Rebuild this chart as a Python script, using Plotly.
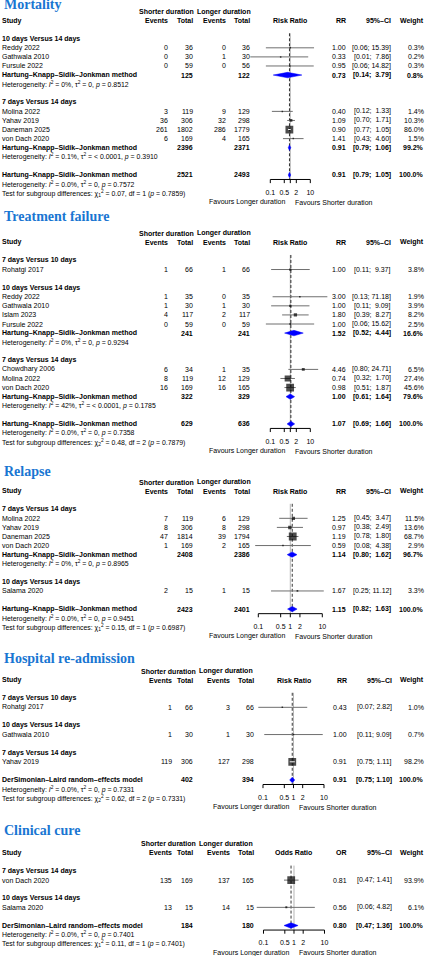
import math
import plotly.graph_objects as go

W, H = 425, 956
ROW_H = 9.08
SANS = "Liberation Sans, Arial, Helvetica, sans-serif"
SERIF = "Liberation Serif, Times New Roman, serif"
TITLE_BLUE = "#1976d2"
DIAMOND_BLUE = "#0000ff"
CI_GREY = "#6f6f6f"
REF_GREY = "#b5b5b5"
NBSP = "\u00a0"

# ---------------- data ----------------
TICK_VALS = [0.1, 0.5, 1, 2, 10]
TICK_TEXT_SHORT = ["0.1", "0.5", "", "2", "10"]
TICK_TEXT_FULL = ["0.1", "0.5", "1", "2", "10"]
FAVOURS = ["Favours Longer duration", "Favours Shorter duration"]
ARMS = ["Shorter duration", "Longer duration"]
HKSJ = "Hartung–Knapp–Sidik–Jonkman method"
DSL = "DerSimonian–Laird random–effects model"

# Mortality
MORT_GROUPS = ["10 days Versus 14 days", "7 days Versus 14 days"]
MORT_GROUP_OF = [0, 0, 0, 1, 1, 1, 1]
MORT_STUDY = ["Reddy 2022", "Gathwala 2010", "Fursule 2022", "Molina 2022",
              "Yahav 2019", "Daneman 2025", "von Dach 2020"]
MORT_E1 = [0, 0, 0, 3, 36, 261, 6]
MORT_N1 = [36, 30, 59, 119, 306, 1802, 169]
MORT_E2 = [0, 1, 0, 9, 32, 286, 4]
MORT_N2 = [36, 30, 56, 129, 298, 1779, 165]
MORT_EST = [1.00, 0.33, 0.95, 0.40, 1.09, 0.90, 1.41]
MORT_LO = [0.06, 0.01, 0.06, 0.12, 0.70, 0.77, 0.43]
MORT_HI = [15.39, 7.86, 14.82, 1.33, 1.71, 1.05, 4.60]
MORT_W = [0.3, 0.2, 0.3, 1.4, 10.3, 86.0, 1.5]
MORT_SUB_N = [[125, 122], [2396, 2371]]
MORT_SUB_CI = [[0.73, 0.14, 3.79], [0.91, 0.79, 1.06]]
MORT_SUB_W = [0.8, 99.2]
MORT_SUB_HET = [["0%", "0", "0.8512"], ["0.1%", "< 0.0001", "0.3910"]]
MORT_ALL_N = [2521, 2493]
MORT_ALL_CI = [0.91, 0.79, 1.05]
MORT_ALL_HET = ["0.0%", "0", "0.7572"]
MORT_TEST = [0.07, 1, "0.7859"]

# Treatment failure
FAIL_GROUPS = ["7 days Versus 10 days", "10 days Versus 14 days", "7 days Versus 14 days"]
FAIL_GROUP_OF = [0, 1, 1, 1, 1, 2, 2, 2]
FAIL_STUDY = ["Rohatgi 2017", "Reddy 2022", "Gathwala 2010", "Islam 2023",
              "Fursule 2022", "Chowdhary 2006", "Molina 2022", "von Dach 2020"]
FAIL_E1 = [1, 1, 1, 4, 0, 6, 8, 16]
FAIL_N1 = [66, 35, 30, 117, 59, 34, 119, 169]
FAIL_E2 = [1, 0, 1, 2, 0, 1, 12, 16]
FAIL_N2 = [66, 35, 30, 117, 59, 35, 129, 165]
FAIL_EST = [1.00, 3.00, 1.00, 1.80, 1.00, 4.46, 0.74, 0.98]
FAIL_LO = [0.11, 0.13, 0.11, 0.39, 0.06, 0.80, 0.32, 0.51]
FAIL_HI = [9.37, 71.18, 9.09, 8.27, 15.62, 24.71, 1.70, 1.87]
FAIL_W = [3.8, 1.9, 3.9, 8.2, 2.5, 6.5, 27.4, 45.6]
FAIL_SUB_N = [None, [241, 241], [322, 329]]
FAIL_SUB_CI = [None, [1.52, 0.52, 4.44], [1.00, 0.61, 1.64]]
FAIL_SUB_W = [None, 16.6, 79.6]
FAIL_SUB_HET = [None, ["0%", "0", "0.9294"], ["42%", "< 0.0001", "0.1785"]]
FAIL_ALL_N = [629, 636]
FAIL_ALL_CI = [1.07, 0.69, 1.66]
FAIL_ALL_HET = ["0.0%", "0", "0.7358"]
FAIL_TEST = [0.48, 2, "0.7879"]

# Relapse
RELA_GROUPS = ["7 days Versus 14 days", "10 days Versus 14 days"]
RELA_GROUP_OF = [0, 0, 0, 0, 1]
RELA_STUDY = ["Molina 2022", "Yahav 2019", "Daneman 2025", "von Dach 2020", "Salama 2020"]
RELA_E1 = [7, 8, 47, 1, 2]
RELA_N1 = [119, 306, 1814, 169, 15]
RELA_E2 = [6, 8, 39, 2, 1]
RELA_N2 = [129, 298, 1794, 165, 15]
RELA_EST = [1.25, 0.97, 1.19, 0.59, 1.67]
RELA_LO = [0.45, 0.38, 0.78, 0.08, 0.25]
RELA_HI = [3.47, 2.49, 1.80, 4.38, 11.12]
RELA_W = [11.5, 13.6, 68.7, 2.9, 3.3]
RELA_SUB_N = [[2408, 2386], None]
RELA_SUB_CI = [[1.14, 0.80, 1.62], None]
RELA_SUB_W = [96.7, None]
RELA_SUB_HET = [["0%", "0", "0.8965"], None]
RELA_ALL_N = [2423, 2401]
RELA_ALL_CI = [1.15, 0.82, 1.63]
RELA_ALL_HET = ["0.0%", "0", "0.9451"]
RELA_TEST = [0.15, 1, "0.6987"]

# Hospital re-admission
HOSP_GROUPS = ["7 days Versus 10 days", "10 days Versus 14 days", "7 days Versus 14 days"]
HOSP_GROUP_OF = [0, 1, 2]
HOSP_STUDY = ["Rohatgi 2017", "Gathwala 2010", "Yahav 2019"]
HOSP_E1 = [1, 1, 119]
HOSP_N1 = [66, 30, 306]
HOSP_E2 = [3, 1, 127]
HOSP_N2 = [66, 30, 298]
HOSP_EST = [0.43, 1.00, 0.91]
HOSP_LO = [0.07, 0.11, 0.75]
HOSP_HI = [2.82, 9.09, 1.11]
HOSP_W = [1.0, 0.7, 98.2]
HOSP_ALL_N = [402, 394]
HOSP_ALL_CI = [0.91, 0.75, 1.10]
HOSP_ALL_HET = ["0.0%", "0", "0.7331"]
HOSP_TEST = [0.62, 2, "0.7331"]

# Clinical cure
CURE_GROUPS = ["7 days Versus 14 days", "10 days Versus 14 days"]
CURE_GROUP_OF = [0, 1]
CURE_STUDY = ["von Dach 2020", "Salama 2020"]
CURE_E1 = [135, 13]
CURE_N1 = [169, 15]
CURE_E2 = [137, 14]
CURE_N2 = [165, 15]
CURE_EST = [0.81, 0.56]
CURE_LO = [0.47, 0.06]
CURE_HI = [1.41, 4.82]
CURE_W = [93.9, 6.1]
CURE_ALL_N = [184, 180]
CURE_ALL_CI = [0.80, 0.47, 1.36]
CURE_ALL_HET = ["0.0%", "0", "0.7401"]
CURE_TEST = [0.11, 1, "0.7401"]

PANELS = [
    dict(title="Mortality", measure="Risk Ratio", abbr="RR", pooled=HKSJ,
         groups=MORT_GROUPS, group_of=MORT_GROUP_OF, study=MORT_STUDY,
         e1=MORT_E1, n1=MORT_N1, e2=MORT_E2, n2=MORT_N2,
         est=MORT_EST, lo=MORT_LO, hi=MORT_HI, w=MORT_W,
         sub_n=MORT_SUB_N, sub_ci=MORT_SUB_CI, sub_w=MORT_SUB_W, sub_het=MORT_SUB_HET,
         all_n=MORT_ALL_N, all_ci=MORT_ALL_CI, all_het=MORT_ALL_HET, test=MORT_TEST),
    dict(title="Treatment failure", measure="Risk Ratio", abbr="RR", pooled=HKSJ,
         groups=FAIL_GROUPS, group_of=FAIL_GROUP_OF, study=FAIL_STUDY,
         e1=FAIL_E1, n1=FAIL_N1, e2=FAIL_E2, n2=FAIL_N2,
         est=FAIL_EST, lo=FAIL_LO, hi=FAIL_HI, w=FAIL_W,
         sub_n=FAIL_SUB_N, sub_ci=FAIL_SUB_CI, sub_w=FAIL_SUB_W, sub_het=FAIL_SUB_HET,
         all_n=FAIL_ALL_N, all_ci=FAIL_ALL_CI, all_het=FAIL_ALL_HET, test=FAIL_TEST),
    dict(title="Relapse", measure="Risk Ratio", abbr="RR", pooled=HKSJ,
         groups=RELA_GROUPS, group_of=RELA_GROUP_OF, study=RELA_STUDY,
         e1=RELA_E1, n1=RELA_N1, e2=RELA_E2, n2=RELA_N2,
         est=RELA_EST, lo=RELA_LO, hi=RELA_HI, w=RELA_W,
         sub_n=RELA_SUB_N, sub_ci=RELA_SUB_CI, sub_w=RELA_SUB_W, sub_het=RELA_SUB_HET,
         all_n=RELA_ALL_N, all_ci=RELA_ALL_CI, all_het=RELA_ALL_HET, test=RELA_TEST),
    dict(title="Hospital re-admission", measure="Risk Ratio", abbr="RR", pooled=DSL,
         groups=HOSP_GROUPS, group_of=HOSP_GROUP_OF, study=HOSP_STUDY,
         e1=HOSP_E1, n1=HOSP_N1, e2=HOSP_E2, n2=HOSP_N2,
         est=HOSP_EST, lo=HOSP_LO, hi=HOSP_HI, w=HOSP_W,
         sub_n=[None] * 3, sub_ci=[None] * 3, sub_w=[None] * 3, sub_het=[None] * 3,
         all_n=HOSP_ALL_N, all_ci=HOSP_ALL_CI, all_het=HOSP_ALL_HET, test=HOSP_TEST),
    dict(title="Clinical cure", measure="Odds Ratio", abbr="OR", pooled=DSL,
         groups=CURE_GROUPS, group_of=CURE_GROUP_OF, study=CURE_STUDY,
         e1=CURE_E1, n1=CURE_N1, e2=CURE_E2, n2=CURE_N2,
         est=CURE_EST, lo=CURE_LO, hi=CURE_HI, w=CURE_W,
         sub_n=[None] * 2, sub_ci=[None] * 2, sub_w=[None] * 2, sub_het=[None] * 2,
         all_n=CURE_ALL_N, all_ci=CURE_ALL_CI, all_het=CURE_ALL_HET, test=CURE_TEST),
]

# ---------------- layout geometry (pixels) ----------------
COLS_A = dict(ev1=168.3, n1=193.3, ev2=225.7, n2=250.0, est=345.7, ci=390.7, w=423.5,
              arm1=166.0, arm2=224.0)
COLS_B = dict(ev1=172.3, n1=193.3, ev2=230.0, n2=254.3, est=347.0, ci=391.5, w=424.0,
              arm1=168.5, arm2=226.0)
GEOMETRY = [
    dict(title_y=5.0, top=11.5, centre=290.3, decade=20.0, cols=COLS_A, ticks=TICK_TEXT_SHORT),
    dict(title_y=216.5, top=233.2, centre=290.3, decade=20.0, cols=COLS_A, ticks=TICK_TEXT_SHORT),
    dict(title_y=471.0, top=482.0, centre=290.3, decade=32.0, cols=COLS_A, ticks=TICK_TEXT_FULL),
    dict(title_y=658.5, top=671.0, centre=293.5, decade=30.5, cols=COLS_B, ticks=TICK_TEXT_FULL),
    dict(title_y=830.5, top=843.8, centre=294.0, decade=30.5, cols=COLS_B, ticks=TICK_TEXT_FULL),
]
SPAN = 2.2          # log10 half-width of each forest axis
LEFT_X = 1.7
SQ_MAX, SQ_MIN = 7.8, 1.5
DIAMOND_H = 0.3
BODY_SIZE, SMALL_SIZE, TITLE_SIZE = 7, 6.9, 14


def panel_rows(d):
    """Assign a row index to every line of one forest plot."""
    rows = []
    r = 3
    for g in range(len(d["groups"])):
        rows.append(("group", r, g))
        r += 1
        for i, gi in enumerate(d["group_of"]):
            if gi == g:
                rows.append(("study", r, i))
                r += 1
        if d["sub_ci"][g] is not None:
            rows.append(("sub", r, g))
            rows.append(("subhet", r + 1, g))
            r += 2
        r += 1
    return rows, r


def het_text(i2, tau2, p):
    return (f"Heterogeneity: <i>I</i><sup>2</sup> = {i2}, τ<sup>2</sup> = {tau2}, "
            f"<i>p</i> = {p}")


fig = go.Figure()
annotations = []


def label(ya, xpx, row, text, anchor="right", size=BODY_SIZE, bold=False):
    annotations.append(dict(
        xref="paper", yref=ya, x=xpx / W, y=row,
        text=f"<b>{text}</b>" if bold else text,
        xanchor=anchor, yanchor="middle", showarrow=False,
        font=dict(family=SANS, size=size, color="black"),
        borderpad=0, borderwidth=0))


for k, (d, geo) in enumerate(zip(PANELS, GEOMETRY)):
    sfx = "" if k == 0 else str(k + 1)
    xa, ya = "x" + sfx, "y" + sfx
    cols = geo["cols"]
    rows, overall = panel_rows(d)
    axis_row = overall + 0.5
    row_top, row_bottom = -0.6, overall + 3.35
    top_px = geo["top"] + row_top * ROW_H
    bottom_px = geo["top"] + row_bottom * ROW_H
    c, dec = geo["centre"], geo["decade"]

    fig.update_layout({
        "xaxis" + sfx: dict(type="log", range=[-SPAN, SPAN], visible=False,
                            domain=[(c - SPAN * dec) / W, (c + SPAN * dec) / W], anchor=ya),
        "yaxis" + sfx: dict(range=[row_bottom, row_top], visible=False,
                            domain=[max(0, 1 - bottom_px / H), min(1, 1 - top_px / H)], anchor=xa),
    })

    def add(trace):
        trace.update(xaxis=xa, yaxis=ya, hoverinfo="skip", showlegend=False)
        fig.add_trace(trace)

    # CI text padding like R's formatting
    all_hi = list(d["hi"]) + [s[2] for s in d["sub_ci"] if s] + [d["all_ci"][2]]
    width = max(len(f"{v:.2f}") for v in all_hi)

    def ci_text(lo, hi):
        h = f"{hi:.2f}"
        return f"[{lo:.2f};{NBSP * (1 + width - len(h))}{h}]"

    # title
    annotations.append(dict(
        xref="paper", yref="paper", x=1.5 / W, y=1 - geo["title_y"] / H,
        xanchor="left", yanchor="middle", showarrow=False,
        text=f"<b>{d['title']}</b>", font=dict(family=SERIF, size=TITLE_SIZE, color=TITLE_BLUE)))

    # header
    label(ya, cols["arm1"], 0, ARMS[0], "center", bold=True)
    label(ya, cols["arm2"], 0, ARMS[1], "center", bold=True)
    label(ya, LEFT_X, 1, "Study", "left", bold=True)
    label(ya, cols["ev1"], 1, "Events", bold=True)
    label(ya, cols["n1"], 1, "Total", bold=True)
    label(ya, cols["ev2"], 1, "Events", bold=True)
    label(ya, cols["n2"], 1, "Total", bold=True)
    label(ya, cols["est"], 1, d["abbr"], bold=True)
    label(ya, cols["ci"], 1, "95%–CI", bold=True)
    label(ya, cols["w"], 1, "Weight", bold=True)
    annotations.append(dict(
        xref=xa, yref=ya, x=0, y=1, text=f"<b>{d['measure']}</b>", xanchor="center",
        yanchor="middle", showarrow=False, font=dict(family=SANS, size=BODY_SIZE, color="black")))

    wmax = max(d["w"])
    ci_x, ci_y, sq_x, sq_y, sq_s, in_x, in_y = [], [], [], [], [], [], []
    diamonds = []

    for kind, r, i in rows:
        if kind == "group":
            label(ya, LEFT_X, r, d["groups"][i], "left", bold=True)
        elif kind == "study":
            label(ya, LEFT_X, r, d["study"][i], "left")
            label(ya, cols["ev1"], r, str(d["e1"][i]))
            label(ya, cols["n1"], r, str(d["n1"][i]))
            label(ya, cols["ev2"], r, str(d["e2"][i]))
            label(ya, cols["n2"], r, str(d["n2"][i]))
            label(ya, cols["est"], r, f"{d['est'][i]:.2f}")
            label(ya, cols["ci"], r, ci_text(d["lo"][i], d["hi"][i]))
            label(ya, cols["w"], r, f"{d['w'][i]:.1f}%")
            size = max(SQ_MIN, SQ_MAX * math.sqrt(d["w"][i] / wmax))
            ci_x += [d["lo"][i], d["hi"][i], None]
            ci_y += [r, r, None]
            sq_x.append(d["est"][i])
            sq_y.append(r)
            sq_s.append(size)
            if dec * math.log10(d["hi"][i] / d["lo"][i]) < size:
                in_x += [d["lo"][i], d["hi"][i], None]
                in_y += [r, r, None]
        elif kind == "sub":
            est, lo, hi = d["sub_ci"][i]
            label(ya, LEFT_X, r, d["pooled"], "left", bold=True)
            label(ya, cols["n1"], r, str(d["sub_n"][i][0]), bold=True)
            label(ya, cols["n2"], r, str(d["sub_n"][i][1]), bold=True)
            label(ya, cols["est"], r, f"{est:.2f}", bold=True)
            label(ya, cols["ci"], r, ci_text(lo, hi), bold=True)
            label(ya, cols["w"], r, f"{d['sub_w'][i]:.1f}%", bold=True)
            diamonds.append((r, est, lo, hi))
        elif kind == "subhet":
            label(ya, LEFT_X, r, het_text(*d["sub_het"][i]), "left", size=SMALL_SIZE)

    # overall
    est, lo, hi = d["all_ci"]
    label(ya, LEFT_X, overall, d["pooled"], "left", bold=True)
    label(ya, cols["n1"], overall, str(d["all_n"][0]), bold=True)
    label(ya, cols["n2"], overall, str(d["all_n"][1]), bold=True)
    label(ya, cols["est"], overall, f"{est:.2f}", bold=True)
    label(ya, cols["ci"], overall, ci_text(lo, hi), bold=True)
    label(ya, cols["w"], overall, "100.0%", bold=True)
    diamonds.append((overall, est, lo, hi))
    label(ya, LEFT_X, overall + 1, het_text(*d["all_het"]), "left", size=SMALL_SIZE)
    chi2, df, p = d["test"]
    label(ya, LEFT_X, overall + 2,
          f"Test for subgroup differences: χ<sub>{df}</sub><sup>2</sup> = {chi2:.2f}, "
          f"df = {df} (<i>p</i> = {p})", "left", size=SMALL_SIZE)

    # reference lines
    add(go.Scatter(x=[1, 1], y=[2.4, axis_row], mode="lines",
                   line=dict(color=REF_GREY, width=1)))
    add(go.Scatter(x=[est, est], y=[2.4, axis_row], mode="lines",
                   line=dict(color="black", width=0.8, dash="3px,2px")))

    # studies
    add(go.Scatter(x=ci_x, y=ci_y, mode="lines", line=dict(color=CI_GREY, width=1)))
    add(go.Scatter(x=sq_x, y=sq_y, mode="markers",
                   marker=dict(symbol="square", size=sq_s, color="black", line=dict(width=0))))
    if in_x:
        add(go.Scatter(x=in_x, y=in_y, mode="lines", line=dict(color="white", width=1)))

    # pooled diamonds
    for r, e, l, h in diamonds:
        add(go.Scatter(x=[l, e, h, e, l], y=[r, r - DIAMOND_H, r, r + DIAMOND_H, r],
                       mode="lines", fill="toself", fillcolor=DIAMOND_BLUE,
                       line=dict(color=DIAMOND_BLUE, width=0.5)))

    # axis
    add(go.Scatter(x=[TICK_VALS[0], TICK_VALS[-1]], y=[axis_row, axis_row], mode="lines",
                   line=dict(color="black", width=1)))
    tx, ty = [], []
    for v in TICK_VALS:
        tx += [v, v, None]
        ty += [axis_row, axis_row + 0.4, None]
    add(go.Scatter(x=tx, y=ty, mode="lines", line=dict(color="black", width=1)))
    add(go.Scatter(x=TICK_VALS, y=[overall + 2] * len(TICK_VALS), mode="text",
                   text=geo["ticks"], textposition="middle center",
                   textfont=dict(family=SANS, size=BODY_SIZE, color="black")))

    for text, anchor, shift in [(FAVOURS[0], "right", -3), (FAVOURS[1], "left", 3)]:
        annotations.append(dict(
            xref=xa, yref=ya, x=0, y=overall + 3, text=text, xanchor=anchor, xshift=shift,
            yanchor="middle", showarrow=False,
            font=dict(family=SANS, size=BODY_SIZE, color="black")))

fig.update_layout(
    width=W, height=H, autosize=False,
    margin=dict(l=0, r=0, t=0, b=0),
    paper_bgcolor="white", plot_bgcolor="white",
    showlegend=False,
    annotations=annotations,
)

# the page body has a default 8px margin; drop it so the figure fills the window
fig.write_html("out.html", config={"displayModeBar": False},
               post_script="document.body.style.margin = '0';")
